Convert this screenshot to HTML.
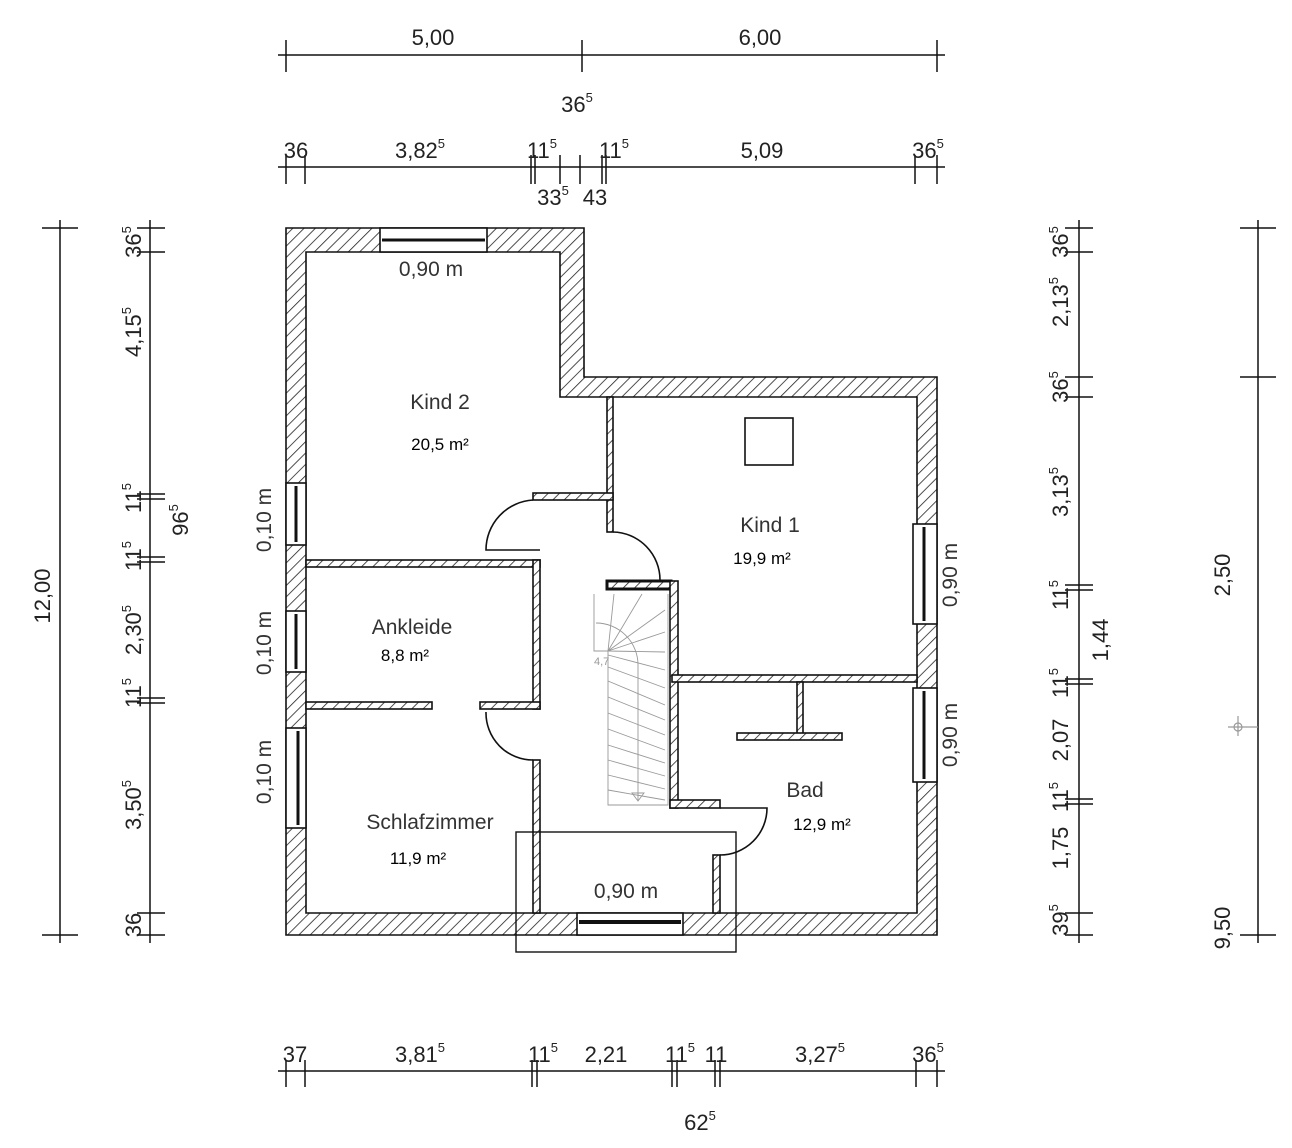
<!DOCTYPE html>
<html><head><meta charset="utf-8"><style>
html,body{margin:0;padding:0;background:#fff}
svg{display:block}
.d{font-family:"Liberation Sans",sans-serif;font-size:22px;fill:#222}
.s{font-size:13px}
</style></head><body>
<svg width="1292" height="1148" viewBox="0 0 1292 1148" xmlns="http://www.w3.org/2000/svg">
<defs>
<pattern id="h" width="8" height="8" patternUnits="userSpaceOnUse" patternTransform="rotate(45)">
<rect width="8" height="8" fill="#fff"/><line x1="0" y1="0" x2="0" y2="8" stroke="#222" stroke-width="1.6"/>
</pattern>
</defs>
<g stroke="#111" stroke-width="1.6" fill="none">
<path fill="url(#h)" fill-rule="evenodd" d="M286,228H584V377H937V935H286Z M306,252V913H917V397H560V252Z"/>
<rect x="380" y="228" width="107" height="24" fill="#fff"/>
<line x1="382" y1="240" x2="485" y2="240" stroke-width="3"/>
<rect x="577" y="913" width="106" height="22" fill="#fff"/>
<line x1="579" y1="922" x2="681" y2="922" stroke-width="4"/>
<rect x="286" y="483" width="20" height="62" fill="#fff"/><line x1="296" y1="486" x2="296" y2="542" stroke-width="3"/>
<rect x="286" y="611" width="20" height="61" fill="#fff"/><line x1="296" y1="614" x2="296" y2="669" stroke-width="3"/>
<rect x="286" y="728" width="20" height="100" fill="#fff"/><line x1="298" y1="731" x2="298" y2="825" stroke-width="3"/>
<rect x="913" y="524" width="24" height="100" fill="#fff"/><line x1="924" y1="527" x2="924" y2="621" stroke-width="3"/>
<rect x="913" y="688" width="24" height="94" fill="#fff"/><line x1="924" y1="691" x2="924" y2="779" stroke-width="3"/>
<rect x="306" y="560" width="234" height="7" fill="url(#h)"/>
<rect x="533" y="560" width="7" height="149" fill="url(#h)"/>
<rect x="306" y="702" width="126" height="7" fill="url(#h)"/>
<rect x="480" y="702" width="60" height="7" fill="url(#h)"/>
<rect x="533" y="760" width="7" height="153" fill="url(#h)"/>
<rect x="607" y="397" width="6" height="135" fill="url(#h)"/>
<rect x="533" y="493" width="80" height="7" fill="url(#h)"/>
<rect x="607" y="581" width="64" height="8" fill="url(#h)" stroke-width="3"/>
<rect x="670" y="581" width="8" height="227" fill="url(#h)"/>
<rect x="670" y="800" width="50" height="8" fill="url(#h)"/>
<rect x="672" y="675" width="245" height="7" fill="url(#h)"/>
<rect x="797" y="682" width="6" height="53" fill="url(#h)"/>
<rect x="737" y="733" width="105" height="7" fill="url(#h)"/>
<rect x="713" y="855" width="7" height="58" fill="url(#h)"/>
<path d="M533,500 A50,50 0 0 0 486,550 H540"/>
<path d="M613,532 A48,48 0 0 1 660,580"/>
<path d="M486,712 A47,47 0 0 0 533,760"/>
<path d="M720,808 H767 A47,47 0 0 1 720,855"/>
<rect x="745" y="418" width="48" height="47"/>
<rect x="516" y="832" width="220" height="120" stroke-width="1.4"/>
</g>
<g stroke="#999" stroke-width="0.9" fill="none">
<path d="M594,594 V651 H608 V805 H668 V594"/>
<path d="M596,623 A42,42 0 0 1 638,665 V800"/>
<path d="M632,793 L638,801 L644,793 Z"/>
<path d="M608,651 L614,594 M608,651 L642,594 M608,651 L665,610 M608,651 L665,632 M608,651 L665,652 M608,655 L665,670 M608,667 L665,688 M608,681 L665,705 M608,697 L665,720 M608,713 L665,735 M608,729 L665,750 M608,745 L665,763 M608,760 L665,776 M608,775 L665,789 M608,790 L665,800"/>
</g>
<text x="594" y="665" font-family="Liberation Sans,sans-serif" font-size="11" fill="#999">4,7</text>
<g font-family="Liberation Sans,sans-serif" fill="#333" font-size="21" text-anchor="middle">
<text x="440" y="409">Kind 2</text>
<text x="770" y="532">Kind 1</text>
<text x="412" y="634">Ankleide</text>
<text x="430" y="829">Schlafzimmer</text>
<text x="805" y="797">Bad</text>
<text x="431" y="276">0,90 m</text>
<text x="626" y="898">0,90 m</text>
<text transform="translate(957,575) rotate(-90)">0,90 m</text>
<text transform="translate(957,735) rotate(-90)">0,90 m</text>
<text transform="translate(271,520) rotate(-90)">0,10 m</text>
<text transform="translate(271,643) rotate(-90)">0,10 m</text>
<text transform="translate(271,772) rotate(-90)">0,10 m</text>
</g>
<g font-family="Liberation Sans,sans-serif" fill="#000" font-size="17" text-anchor="middle">
<text x="440" y="450">20,5 m²</text>
<text x="762" y="564">19,9 m²</text>
<text x="405" y="661">8,8 m²</text>
<text x="418" y="864">11,9 m²</text>
<text x="822" y="830">12,9 m²</text>
</g>
<g stroke="#111" stroke-width="1.5">
<line x1="278" y1="55" x2="945" y2="55"/>
<path d="M286,40V72 M582,40V72 M937,40V72"/>
<line x1="278" y1="167" x2="945" y2="167"/>
<path d="M286,155V184 M305,155V184 M531,155V184 M535,155V184 M560,155V184 M580,155V184 M602,155V184 M606,155V184 M915,155V184 M937,155V184"/>
<line x1="278" y1="1071" x2="945" y2="1071"/>
<path d="M286,1060V1087 M305,1060V1087 M532,1060V1087 M537,1060V1087 M672,1060V1087 M677,1060V1087 M715,1060V1087 M720,1060V1087 M916,1060V1087 M937,1060V1087"/>
<line x1="60" y1="220" x2="60" y2="943"/>
<path d="M42,228H78 M42,935H78"/>
<line x1="150" y1="220" x2="150" y2="943"/>
<path d="M137,228H165 M137,252H165 M137,494H165 M137,499H165 M137,557H165 M137,562H165 M137,698H165 M137,703H165 M137,913H165 M137,935H165"/>
<line x1="1079" y1="220" x2="1079" y2="943"/>
<path d="M1065,228H1093 M1065,252H1093 M1065,377H1093 M1065,397H1093 M1065,585H1093 M1065,590H1093 M1065,679H1093 M1065,684H1093 M1065,799H1093 M1065,804H1093 M1065,913H1093 M1065,935H1093"/>
<line x1="1258" y1="220" x2="1258" y2="943"/>
<path d="M1240,228H1276 M1240,377H1276 M1240,935H1276"/>
</g>
<g stroke="#999" stroke-width="1.2" fill="none"><circle cx="1238" cy="727" r="4"/><path d="M1228,727H1258 M1238,716V736"/></g>
<g class="d" text-anchor="middle">
<text x="433" y="45">5,00</text>
<text x="760" y="45">6,00</text>
<text x="577" y="112">36<tspan class="s" dy="-10">5</tspan></text>
<text x="296" y="158">36</text>
<text x="420" y="158">3,82<tspan class="s" dy="-10">5</tspan></text>
<text x="542" y="158">11<tspan class="s" dy="-10">5</tspan></text>
<text x="614" y="158">11<tspan class="s" dy="-10">5</tspan></text>
<text x="762" y="158">5,09</text>
<text x="928" y="158">36<tspan class="s" dy="-10">5</tspan></text>
<text x="553" y="205">33<tspan class="s" dy="-10">5</tspan></text>
<text x="595" y="205">43</text>
<text x="295" y="1062">37</text>
<text x="420" y="1062">3,81<tspan class="s" dy="-10">5</tspan></text>
<text x="543" y="1062">11<tspan class="s" dy="-10">5</tspan></text>
<text x="606" y="1062">2,21</text>
<text x="680" y="1062">11<tspan class="s" dy="-10">5</tspan></text>
<text x="716" y="1062">11</text>
<text x="820" y="1062">3,27<tspan class="s" dy="-10">5</tspan></text>
<text x="928" y="1062">36<tspan class="s" dy="-10">5</tspan></text>
<text x="700" y="1130">62<tspan class="s" dy="-10">5</tspan></text>
<text transform="translate(50,596) rotate(-90)">12,00</text>
<text transform="translate(141,242) rotate(-90)">36<tspan class="s" dy="-10">5</tspan></text>
<text transform="translate(141,332) rotate(-90)">4,15<tspan class="s" dy="-10">5</tspan></text>
<text transform="translate(141,498) rotate(-90)">11<tspan class="s" dy="-10">5</tspan></text>
<text transform="translate(188,520) rotate(-90)">96<tspan class="s" dy="-10">5</tspan></text>
<text transform="translate(141,556) rotate(-90)">11<tspan class="s" dy="-10">5</tspan></text>
<text transform="translate(141,630) rotate(-90)">2,30<tspan class="s" dy="-10">5</tspan></text>
<text transform="translate(141,693) rotate(-90)">11<tspan class="s" dy="-10">5</tspan></text>
<text transform="translate(141,805) rotate(-90)">3,50<tspan class="s" dy="-10">5</tspan></text>
<text transform="translate(141,925) rotate(-90)">36</text>
<text transform="translate(1068,242) rotate(-90)">36<tspan class="s" dy="-10">5</tspan></text>
<text transform="translate(1068,302) rotate(-90)">2,13<tspan class="s" dy="-10">5</tspan></text>
<text transform="translate(1068,387) rotate(-90)">36<tspan class="s" dy="-10">5</tspan></text>
<text transform="translate(1068,492) rotate(-90)">3,13<tspan class="s" dy="-10">5</tspan></text>
<text transform="translate(1068,595) rotate(-90)">11<tspan class="s" dy="-10">5</tspan></text>
<text transform="translate(1108,640) rotate(-90)">1,44</text>
<text transform="translate(1068,683) rotate(-90)">11<tspan class="s" dy="-10">5</tspan></text>
<text transform="translate(1068,740) rotate(-90)">2,07</text>
<text transform="translate(1068,797) rotate(-90)">11<tspan class="s" dy="-10">5</tspan></text>
<text transform="translate(1068,848) rotate(-90)">1,75</text>
<text transform="translate(1068,920) rotate(-90)">39<tspan class="s" dy="-10">5</tspan></text>
<text transform="translate(1230,575) rotate(-90)">2,50</text>
<text transform="translate(1230,928) rotate(-90)">9,50</text>
</g>
</svg>
</body></html>
